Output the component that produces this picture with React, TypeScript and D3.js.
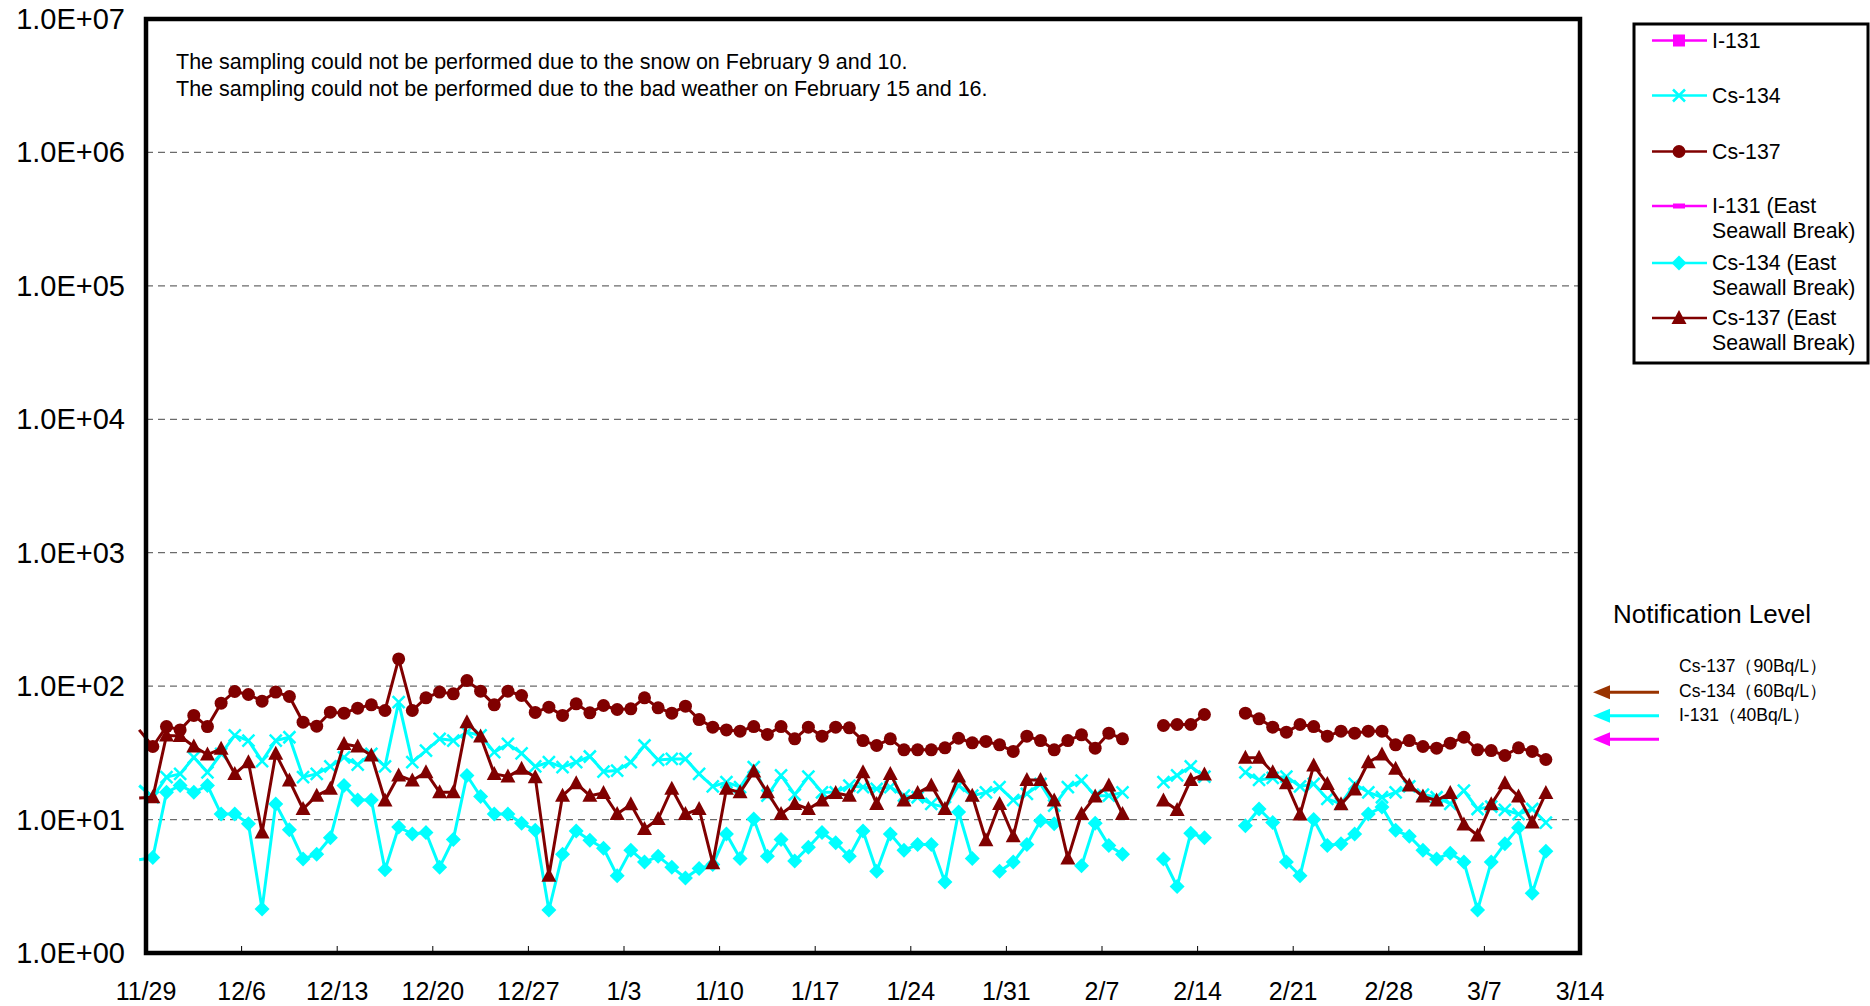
import React from 'react'
import * as d3 from 'd3'

// daily samples starting 11/29; null = no sampling
const START = new Date(Date.UTC(2013, 10, 29))
const END = new Date(Date.UTC(2014, 2, 14))

const cs137 = [35.3, 49.8, 47.0, 60.3, 49.8, 74.5, 91.2, 86.6, 77.2, 90.2, 83.6, 53.7, 50.1, 63.8, 62.7, 68.4, 72.4, 65.7, 160, 65.7,
  81.7, 90.2, 87.6, 110, 91.7, 72.4, 91.7, 85.1, 63.5, 69.6, 60.3, 73.7, 63.1, 71.6, 66.8, 67.6, 81.7, 68.8, 62.7, 70.8,
  56.2, 49.3, 47.0, 46.0, 49.8, 43.4, 49.8, 40.3, 49.3, 42.2, 49.3, 48.7, 39.1, 35.9, 40.3, 33.3, 33.3, 33.3, 34.5, 40.7,
  37.6, 38.5, 36.3, 32.4, 42.2, 39.1, 33.3, 39.1, 43.2, 34.3, 44.4, 40.3, null, null, 50.7, 51.6, 51.6, 61.3, null, null,
  62.7, 56.9, 49.3, 45.2, 51.6, 49.8, 42.2, 46.0, 44.4, 46.0, 46.0, 36.3, 39.1, 35.3, 34.3, 37.4, 41.4, 33.3, 32.9, 30.2,
  34.5, 32.4, 28.2]

const cs134 = [14.7, 20.8, 22.0, 29.3, 22.6, 31.1, 42.7, 39.1, 27.4, 39.1, 41.4, 20.8, 22.0, 25.0, 29.3, 25.8, 31.1, 25.0, 75.9, 26.9,
  32.9, 40.3, 39.1, 45.2, 42.7, 32.0, 36.9, 31.4, 25.0, 26.9, 24.7, 26.9, 29.7, 22.9, 23.3, 26.9, 35.9, 28.0, 28.5, 28.5,
  22.0, 17.7, 19.1, 17.5, 24.7, 15.1, 21.4, 15.4, 21.0, 16.0, 16.0, 18.0, 17.5, 17.0, 17.5, 15.1, 14.7, 13.1, 12.4, 18.0,
  15.1, 16.0, 17.5, 14.0, 15.6, 18.5, 12.7, 17.5, 19.6, 15.1, 15.1, 16.0, null, null, 19.1, 21.4, 25.0, 21.0, null, null,
  22.6, 19.8, 20.5, 21.0, 17.7, 18.5, 14.3, 13.1, 18.5, 16.0, 14.7, 16.0, 17.7, 15.4, 14.7, 13.1, 16.5, 12.0, 12.5, 11.8,
  11.0, 12.0, 9.5]

const cs137East = [14.7, 42.7, 42.3, 35.3, 30.7, 33.9, 22.0, 26.9, 8.0, 31.1, 19.6, 12.0, 15.1, 17.0, 36.9, 35.3, 30.2, 13.9, 21.4, 19.6,
  22.6, 16.0, 16.0, 53.7, 41.9, 22.0, 21.0, 24.0, 20.8, 3.8, 15.1, 18.7, 15.1, 15.8, 11.0, 13.0, 8.5, 10.1, 17.0, 11.0,
  12.0, 4.7, 17.0, 16.0, 22.9, 16.0, 11.0, 13.1, 12.0, 13.9, 15.8, 15.1, 22.6, 13.1, 22.0, 13.9, 15.8, 18.0, 12.0, 21.0,
  15.1, 7.0, 13.1, 7.5, 19.8, 19.8, 13.9, 5.1, 11.0, 14.9, 18.0, 11.0, null, null, 13.9, 11.8, 19.8, 21.8, null, null,
  29.0, 29.0, 22.6, 18.7, 10.9, 25.4, 18.5, 13.0, 16.8, 26.9, 30.7, 24.0, 18.0, 14.9, 13.9, 15.8, 9.2, 7.6, 13.0, 18.7,
  14.9, 9.5, 15.8]

const cs134East = [5.2, 16.0, 18.0, 16.0, 18.0, 11.0, 11.0, 9.3, 2.14, 13.1, 8.4, 5.07, 5.5, 7.3, 18.0, 14.0, 14.0, 4.2, 8.8, 7.8,
  8.0, 4.4, 7.1, 21.4, 14.9, 11.0, 11.0, 9.4, 8.3, 2.1, 5.5, 8.2, 7.0, 6.1, 3.8, 5.9, 4.8, 5.3, 4.4, 3.65,
  4.3, 4.6, 7.8, 5.1, 10.1, 5.3, 7.1, 4.9, 6.2, 8.0, 6.7, 5.3, 8.2, 4.1, 7.8, 5.9, 6.5, 6.5, 3.4, 11.4,
  5.1, null, 4.1, 4.8, 6.5, 9.8, 9.3, null, 4.5, 9.4, 6.4, 5.5, null, null, 5.07, 3.15, 7.9, 7.3, null, null,
  9.0, 12.0, 9.5, 4.8, 3.8, 10.0, 6.4, 6.6, 7.8, 11.0, 12.4, 8.3, 7.5, 5.9, 5.07, 5.6, 4.8, 2.1, 4.8, 6.6,
  8.7, 2.8, 5.8]

// values of the day before 11/29 (only the line stub left of the axis shows)
const prevDay = { cs137: 47, cs134: 18, cs137East: 14.5, cs134East: 5 }

const notes = [
  'The sampling could not be performed due to the snow on February 9 and 10.',
  'The sampling could not be performed due to the bad weather on February 15 and 16.',
]

const legendItems = [
  { label: ['I-131'], color: '#ff00ff', marker: 'square' },
  { label: ['Cs-134'], color: '#00ffff', marker: 'x' },
  { label: ['Cs-137'], color: '#800000', marker: 'circle' },
  { label: ['I-131 (East', 'Seawall Break)'], color: '#ff00ff', marker: 'dash' },
  { label: ['Cs-134 (East', 'Seawall Break)'], color: '#00ffff', marker: 'diamond' },
  { label: ['Cs-137 (East', 'Seawall Break)'], color: '#800000', marker: 'triangle' },
]

const levels = [
  { label: 'Cs-137（90Bq/L）', value: 90, color: '#993300' },
  { label: 'Cs-134（60Bq/L）', value: 60, color: '#00ffff' },
  { label: 'I-131（40Bq/L）', value: 40, color: '#ff00ff' },
]

const FONT = '"Liberation Sans", Arial, sans-serif'
const DAY = 86400000

const Marker = ({ type, x, y, color }) => {
  if (type === 'circle') return <circle cx={x} cy={y} r={6.5} fill={color} />
  if (type === 'square') return <rect x={x - 6} y={y - 6} width={12} height={12} fill={color} />
  if (type === 'dash') return <rect x={x - 6} y={y - 2.5} width={12} height={5} fill={color} />
  if (type === 'diamond') return <path d={`M${x},${y - 7.5}L${x + 7.5},${y}L${x},${y + 7.5}L${x - 7.5},${y}Z`} fill={color} />
  if (type === 'triangle') return <path d={`M${x},${y - 8}L${x + 7.5},${y + 6}L${x - 7.5},${y + 6}Z`} fill={color} />
  return <path d={`M${x - 6},${y - 6}L${x + 6},${y + 6}M${x + 6},${y - 6}L${x - 6},${y + 6}`} stroke={color} strokeWidth={2.5} fill="none" />
}

const App = () => {
  const width = 1870, height = 1006
  const left = 146, right = 1580, top = 19, bottom = 953

  const x = d3.scaleUtc().domain([START, END]).range([left, right])
  const y = d3.scaleLog().domain([1, 1e7]).range([bottom, top])

  const series = [
    { values: cs134, prev: prevDay.cs134, color: '#00ffff', marker: 'x' },
    { values: cs137, prev: prevDay.cs137, color: '#800000', marker: 'circle' },
    { values: cs134East, prev: prevDay.cs134East, color: '#00ffff', marker: 'diamond' },
    { values: cs137East, prev: prevDay.cs137East, color: '#800000', marker: 'triangle' },
  ]
  const px = i => x(new Date(START.getTime() + i * DAY + DAY / 2))

  // index shifted by one: element 0 is the day before the first date
  const line = d3.line()
    .defined(d => d != null)
    .x((d, i) => px(i - 1))
    .y(d => y(d))

  // weekly ticks counted from the first day
  const xTicks = d3.range(0, 106, 7).map(d => new Date(START.getTime() + d * DAY))
  const fmt = d3.utcFormat('%-m/%-d')
  const yTicks = d3.range(0, 8).map(e => Math.pow(10, e))

  return (
    <div style={{ position: 'absolute', left: 0, top: 0 }}>
      <svg width={width} height={height} style={{ display: 'block', background: '#fff' }} fontFamily={FONT}>
        <defs>
          <clipPath id="plotClip">
            <rect x={left - 8} y={top} width={right - left + 8} height={bottom - top} />
          </clipPath>
        </defs>
        {/* grid */}
        {yTicks.slice(1, -1).map(t => (
          <line key={t} x1={left} x2={right} y1={y(t)} y2={y(t)} stroke="#6b6b6b" strokeWidth={1.3} strokeDasharray="7,5" />
        ))}
        {yTicks.map((t, i) => (
          <text key={t} x={125} y={y(t) + 10} fontSize={29} textAnchor="end" fill="#000">
            {`1.0E+${String(i).padStart(2, '0')}`}
          </text>
        ))}
        {xTicks.map(t => (
          <g key={+t}>
            <line x1={x(t)} x2={x(t)} y1={bottom} y2={bottom - 7} stroke="#000" strokeWidth={1} />
            <text x={x(t)} y={1000} fontSize={25} textAnchor="middle" fill="#000">{fmt(t)}</text>
          </g>
        ))}

        {/* series */}
        {series.map((s, k) => (
          <g key={k}>
            <path d={line([s.prev, ...s.values])} fill="none" stroke={s.color} strokeWidth={3}
              strokeLinejoin="round" clipPath="url(#plotClip)" />
            {s.values.map((v, i) => v == null ? null : (
              <Marker key={i} type={s.marker} x={px(i)} y={y(v)} color={s.color} />
            ))}
          </g>
        ))}

        <rect x={left} y={top} width={right - left} height={bottom - top} fill="none" stroke="#000" strokeWidth={4.5} />

        {notes.map((n, i) => (
          <text key={i} x={176} y={69 + i * 27} fontSize={21.5} fill="#000">{n}</text>
        ))}

        {/* legend */}
        <rect x={1634} y={24} width={234} height={339} fill="#fff" stroke="#000" strokeWidth={3} />
        {legendItems.map((it, i) => {
          const cy = [40.5, 95.5, 151.5, 206, 263, 318][i]
          return (
            <g key={i}>
              <line x1={1652} x2={1707} y1={cy} y2={cy} stroke={it.color} strokeWidth={2.5} />
              <Marker type={it.marker} x={1679} y={cy} color={it.color} />
              {it.label.map((l, j) => (
                <text key={j} x={1712} y={cy + 7 + j * 25} fontSize={21.3} fill="#000">{l}</text>
              ))}
            </g>
          )
        })}

        {/* notification levels */}
        <text x={1613} y={623} fontSize={26} fill="#000">Notification Level</text>
        {levels.map((l, i) => (
          <text key={l.label} x={1679} y={672 + i * 24.5} fontSize={17.5} fill="#000">{l.label}</text>
        ))}
        {levels.map(l => (
          <g key={l.value}>
            <line x1={1606} x2={1659} y1={y(l.value)} y2={y(l.value)} stroke={l.color} strokeWidth={3} />
            <path d={`M1593,${y(l.value)}L1610,${y(l.value) - 7}L1610,${y(l.value) + 7}Z`} fill={l.color} />
          </g>
        ))}
      </svg>
    </div>
  )
}

export default App
